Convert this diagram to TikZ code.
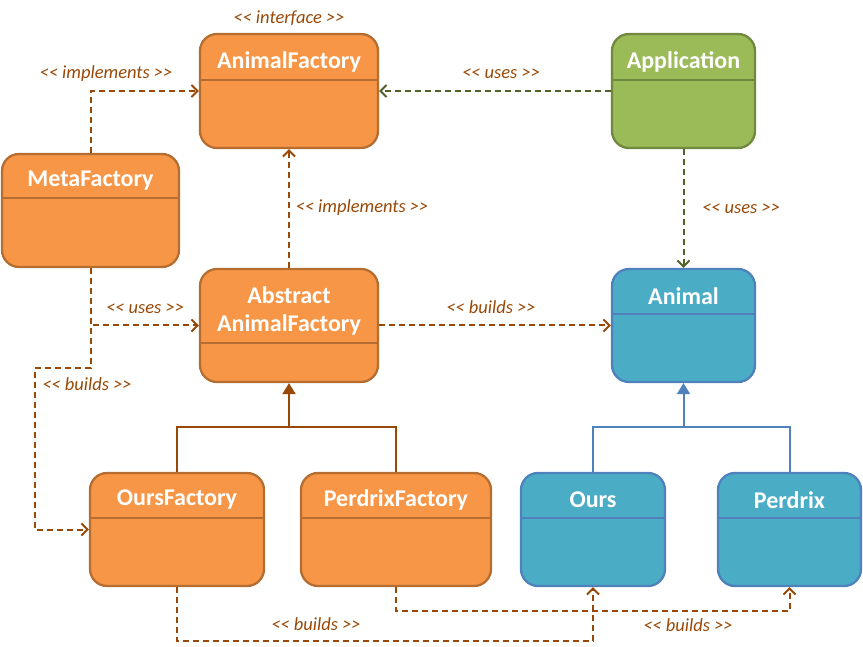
\documentclass[tikz,border=0pt]{standalone}
\usepackage{fontspec}
\setmainfont{Carlito}
\usetikzlibrary{arrows.meta}

\definecolor{orfill}{HTML}{F79646}
\definecolor{ordraw}{HTML}{B66D31}
\definecolor{grfill}{HTML}{9BBB59}
\definecolor{grdraw}{HTML}{71893F}
\definecolor{blfill}{HTML}{4BACC6}
\definecolor{bldraw}{HTML}{4F81BD}
\definecolor{deplink}{HTML}{984807}
\definecolor{uselink}{HTML}{4F6228}

% stereotype brackets (kern keeps the font mapping from making guillemets)
\newcommand\stopen{<\kern0pt<}
\newcommand\stclose{>\kern0pt>}

% one class: style, name, left, top, right, bottom, divider y, rule style, title
\newcommand\umlclass[9]{%
  \node[#1, minimum width={#5-#3}, minimum height={#6-#4}] (#2)
    at ({(#3+#5)/2},{(#4+#6)/2}) {};
  \draw[#8] (#3,#7) -- (#5,#7);
  \node[classtitle] (#2-title) at ({(#3+#5)/2},{(#4+#7)/2+4.5}) {#9};
}

\tikzset{
  x=1pt, y=-1pt,
  classbase/.style={rectangle, rounded corners=17pt, line width=2.3pt, inner sep=0pt},
  orangeclass/.style={classbase, fill=orfill, draw=ordraw},
  greenclass/.style={classbase, fill=grfill, draw=grdraw},
  blueclass/.style={classbase, fill=blfill, draw=bldraw},
  orangerule/.style={draw=ordraw, line width=2.3pt},
  greenrule/.style={draw=grdraw, line width=2.3pt},
  bluerule/.style={draw=bldraw, line width=2.3pt},
  classtitle/.style={text=white, font=\bfseries\fontsize{24}{28}\selectfont, align=center, inner sep=0pt},
  deparrow/.style={line width=2pt, dash pattern=on 6pt off 4pt,
    -{Straight Barb[length=6pt,width=12pt,line width=2pt]}},
  builds/.style={deparrow, draw=deplink},
  uses/.style={deparrow, draw=uselink},
  genbrown/.style={draw=deplink, line width=2pt},
  genblue/.style={draw=bldraw, line width=2pt},
  gentip/.style={-{Triangle[length=11pt,width=13pt]}},
  stereo/.style={text=deplink, font=\itshape\fontsize{18.5}{20}\selectfont, inner sep=0pt},
}

\begin{document}
\begin{tikzpicture}
\useasboundingbox (0,0) rectangle (863,647);

% classes
\umlclass{orangeclass}{af}{200}{34}{378}{148}{80}{orangerule}{AnimalFactory}
\umlclass{greenclass}{app}{612}{34}{755}{148}{80}{greenrule}{Application}
\umlclass{orangeclass}{meta}{2}{154}{179}{267}{198}{orangerule}{MetaFactory}
\umlclass{orangeclass}{abs}{200}{269}{378}{382}{343}{orangerule}{Abstract\\AnimalFactory}
\umlclass{blueclass}{animal}{612}{269}{755}{382}{314}{bluerule}{Animal}
\umlclass{orangeclass}{oursf}{90}{473}{264}{586}{518}{orangerule}{OursFactory}
\umlclass{orangeclass}{pf}{301}{473}{491}{586}{518}{orangerule}{PerdrixFactory}
\umlclass{blueclass}{ours}{521}{473}{665}{586}{518}{bluerule}{Ours}
\umlclass{blueclass}{perdrix}{718}{473}{861}{586}{518}{bluerule}{Perdrix}

% dependencies
\draw[builds] (meta.north) |- (af.west);
\draw[uses] (app.west) -- (af.east);
\draw[builds] (abs.north) -- (af.south);
\draw[uses] (app.south) -- (animal.north);
\draw[builds] (meta.south) |- (abs.west);
\draw[builds] (meta.south) -- ++(0,100) -- ++(-56,0) |- (oursf.west);
\draw[builds] (abs.east) -- (animal.west);
\draw[builds] (oursf.south) -- ++(0,54) -| (ours.south);
\draw[builds] (pf.south) -- ++(0,24) -| (perdrix.south);

% generalisations
\draw[genbrown] (oursf.north) -- ++(0,-45) coordinate (fjoin) -| (pf.north);
\draw[genbrown, gentip] (fjoin -| abs.south) -- (abs.south);
\draw[genblue] (ours.north) -- ++(0,-45) coordinate (ajoin) -| (perdrix.north);
\draw[genblue, gentip] (ajoin -| animal.south) -- (animal.south);

% stereotypes
\node[stereo] (s-int) at (289,18) {\stopen{} interface \stclose};
\node[stereo] (s-impl1) at (106,74) {\stopen{} implements \stclose};
\node[stereo] (s-uses1) at (501,74) {\stopen{} uses \stclose};
\node[stereo] (s-impl2) at (362,208) {\stopen{} implements \stclose};
\node[stereo] (s-uses2) at (741,209) {\stopen{} uses \stclose};
\node[stereo] (s-uses3) at (145,309) {\stopen{} uses \stclose};
\node[stereo] (s-build1) at (491,307) {\stopen{} builds \stclose};
\node[stereo] (s-build2) at (87,384) {\stopen{} builds \stclose};
\node[stereo] (s-build3) at (316,624) {\stopen{} builds \stclose};
\node[stereo] (s-build4) at (688,625) {\stopen{} builds \stclose};
\end{tikzpicture}
\end{document}
